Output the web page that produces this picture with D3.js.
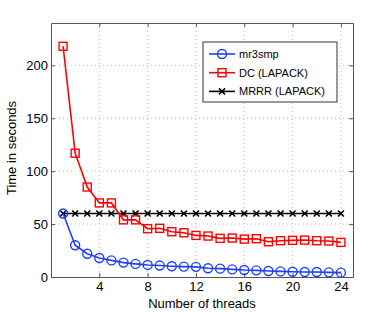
<!DOCTYPE html>
<html>
<head>
<meta charset="utf-8">
<script src="https://cdn.jsdelivr.net/npm/d3@7"></script>
<style>
  body { margin: 0; background: #fff; }
  text { font-family: "Liberation Sans", Arial, sans-serif; fill: #000; }
</style>
</head>
<body>
<div class="chart"></div>
<script>
var threads = d3.range(1, 25);
var mr3smp = [60, 30, 22, 18, 15.7, 13.6, 12.4, 11.4, 10.8, 10.2, 9.8, 9.6, 8.3, 7.9, 7.2, 6.6, 6.3, 5.7, 5.3, 5, 4.7, 4.7, 4.4, 4.1];
var dc = [218, 117, 85, 70, 70, 54, 54, 45.6, 46, 42.8, 41.8, 39.3, 38.7, 36.5, 36.8, 35.8, 36.2, 33.3, 34.3, 34.6, 34.9, 34.3, 34, 32.7];
var mrrr = [60, 60, 60, 60, 60, 60, 60, 60, 60, 60, 60, 60, 60, 60, 60, 60, 60, 60, 60, 60, 60, 60, 60, 60];
var seriesNames = ["mr3smp", "DC (LAPACK)", "MRRR (LAPACK)"];
var xTicks = [4, 8, 12, 16, 20, 24];
var yTicks = [0, 50, 100, 150, 200];

var svgWidth = 390;
var svgHeight = 312;
var margin = { top: 23, right: 37, bottom: 35, left: 51 };
var width = svgWidth - margin.left - margin.right;
var height = svgHeight - margin.top - margin.bottom;

var svg = d3.select(".chart")
  .append("svg")
  .attr("width", svgWidth)
  .attr("height", svgHeight);

var chartGroup = svg.append("g")
  .attr("transform", `translate(${margin.left}, ${margin.top})`);

var x = d3.scaleLinear().domain([0, 25]).range([0, width]);
var y = d3.scaleLinear().domain([0, 240]).range([height, 0]);

// grid
chartGroup.selectAll(".gx").data(xTicks).enter().append("line")
  .attr("x1", d => x(d)).attr("x2", d => x(d))
  .attr("y1", 0).attr("y2", height)
  .attr("stroke", "#bbb").attr("stroke-dasharray", "1,3");
chartGroup.selectAll(".gy").data(yTicks.filter(d => d > 0)).enter().append("line")
  .attr("x1", 0).attr("x2", width)
  .attr("y1", d => y(d)).attr("y2", d => y(d))
  .attr("stroke", "#bbb").attr("stroke-dasharray", "1,3");

// axes (MATLAB style, ticks inside)
var bottomAxis = d3.axisBottom(x).tickValues(xTicks).tickSizeInner(-4).tickSizeOuter(0).tickPadding(5);
var leftAxis = d3.axisLeft(y).tickValues(yTicks).tickSizeInner(-4).tickSizeOuter(0).tickPadding(3);
var topAxis = d3.axisTop(x).tickValues(xTicks).tickSizeInner(-4).tickSizeOuter(0).tickFormat("");
var rightAxis = d3.axisRight(y).tickValues(yTicks).tickSizeInner(-4).tickSizeOuter(0).tickFormat("");

function styleAxis(g) {
  g.selectAll("path, line").attr("stroke", "#555");
  g.selectAll("text").style("font-size", "13px").attr("fill", "#000");
}
chartGroup.append("g").attr("transform", `translate(0, ${height})`).call(bottomAxis).call(styleAxis);
chartGroup.append("g").call(leftAxis).call(styleAxis);
chartGroup.append("g").call(topAxis).call(styleAxis);
chartGroup.append("g").attr("transform", `translate(${width}, 0)`).call(rightAxis).call(styleAxis);

var line = d3.line().x((d, i) => x(threads[i])).y(d => y(d));

// MRRR
chartGroup.append("path").datum(mrrr).attr("d", line)
  .attr("fill", "none").attr("stroke", "#000").attr("stroke-width", 1.6);
function cross(g, cx, cy, s, col) {
  g.append("path")
    .attr("d", `M${cx - s},${cy - s}L${cx + s},${cy + s}M${cx - s},${cy + s}L${cx + s},${cy - s}`)
    .attr("stroke", col).attr("stroke-width", 1.6);
}
mrrr.forEach((d, i) => cross(chartGroup, x(threads[i]), y(d), 3, "#000"));

// DC
chartGroup.append("path").datum(dc).attr("d", line)
  .attr("fill", "none").attr("stroke", "#f00").attr("stroke-width", 1.6);
chartGroup.selectAll(".sq").data(dc).enter().append("rect")
  .attr("x", (d, i) => x(threads[i]) - 4).attr("y", d => y(d) - 4)
  .attr("width", 8).attr("height", 8)
  .attr("fill", "none").attr("stroke", "#f00").attr("stroke-width", 1.4);

// mr3smp
chartGroup.append("path").datum(mr3smp).attr("d", line)
  .attr("fill", "none").attr("stroke", "#1f3fff").attr("stroke-width", 1.6);
chartGroup.selectAll(".ci").data(mr3smp).enter().append("circle")
  .attr("cx", (d, i) => x(threads[i])).attr("cy", d => y(d)).attr("r", 4.5)
  .attr("fill", "none").attr("stroke", "#1f3fff").attr("stroke-width", 1.4);

// legend
var legend = svg.append("g").attr("transform", "translate(203, 42)");
legend.append("rect").attr("width", 134).attr("height", 60)
  .attr("fill", "#fff").attr("stroke", "#333").attr("stroke-width", 1);
var colors = ["#1f3fff", "#f00", "#000"];
seriesNames.forEach(function(name, i) {
  var ly = 12 + i * 18.7;
  var row = legend.append("g");
  row.append("line").attr("x1", 6).attr("x2", 32).attr("y1", ly).attr("y2", ly)
    .attr("stroke", colors[i]).attr("stroke-width", 1.6);
  if (i === 0) {
    row.append("circle").attr("cx", 19).attr("cy", ly).attr("r", 4.5)
      .attr("fill", "none").attr("stroke", colors[i]).attr("stroke-width", 1.4);
  } else if (i === 1) {
    row.append("rect").attr("x", 15).attr("y", ly - 4).attr("width", 8).attr("height", 8)
      .attr("fill", "none").attr("stroke", colors[i]).attr("stroke-width", 1.4);
  } else {
    cross(row, 19, ly, 3, colors[i]);
  }
  row.append("text").attr("x", 36).attr("y", ly + 4).style("font-size", "11px").text(name);
});

// axis labels
chartGroup.append("text")
  .attr("transform", "rotate(-90)")
  .attr("x", -height / 2 + 2)
  .attr("y", -margin.left + 16)
  .attr("text-anchor", "middle")
  .style("font-size", "13px")
  .text("Time in seconds");

chartGroup.append("text")
  .attr("x", width / 2)
  .attr("y", height + 31)
  .attr("text-anchor", "middle")
  .style("font-size", "13px")
  .text("Number of threads");
</script>
</body>
</html>
